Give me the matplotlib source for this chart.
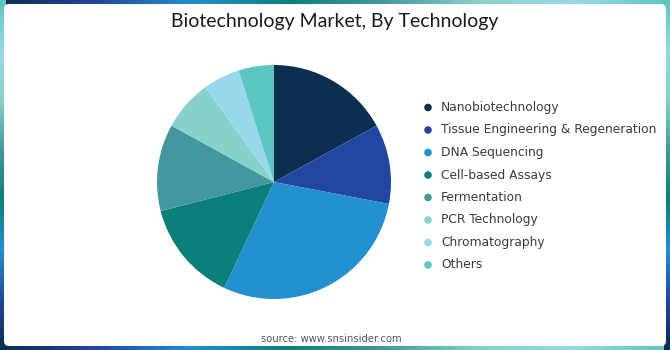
import matplotlib
import numpy as np

from matplotlib import pyplot as plt
from matplotlib.patches import FancyBboxPatch
from matplotlib.colors import LinearSegmentedColormap

matplotlib.rcParams['font.family'] = 'DejaVu Sans'

labels = ['Nanobiotechnology', 'Tissue Engineering & Regeneration', 'DNA Sequencing',
          'Cell-based Assays', 'Fermentation', 'PCR Technology', 'Chromatography', 'Others']
shares = [17, 11, 29, 14, 12, 7, 5.1, 4.9]
colors = ['#0a2f50', '#2346a0', '#2390d0', '#0b7f7a', '#45979f', '#88d0cb', '#98d8ea', '#5cc6c0']

W, H = 670, 350
fig = plt.figure(figsize=(W / 100, H / 100), dpi=100)

# gradient frame
bg = fig.add_axes([0, 0, 1, 1])
bg.set_xlim(0, W)
bg.set_ylim(H, 0)
bg.axis('off')
frame_cmap = LinearSegmentedColormap.from_list('frame', ['#0a2f50', '#2346a0', '#2390d0', '#0b7f7a',
                                                         '#45979f', '#88d0cb', '#98d8ea', '#5cc6c0'])
hgrad = np.linspace(0, 1, 256).reshape(1, -1)
vgrad = np.linspace(1, 0, 256).reshape(-1, 1)
bg.imshow(hgrad, cmap=frame_cmap, aspect='auto', extent=(0, W, 6, 0))
bg.imshow(hgrad, cmap=frame_cmap, aspect='auto', extent=(0, W, H, H - 6))
bg.imshow(vgrad, cmap=frame_cmap, aspect='auto', extent=(0, 6, H, 0))
bg.imshow(vgrad, cmap=frame_cmap, aspect='auto', extent=(W - 6, W, H, 0))
bg.add_patch(FancyBboxPatch((7, 7), W - 14, H - 14, boxstyle='round,pad=3,rounding_size=5',
                            facecolor='white', edgecolor='none'))

fig.text(0.5, 1 - 21 / H, 'Biotechnology Market, By Technology', ha='center', va='center',
         fontsize=14, color='#1a1a1a', family='Lato')

# pie
cx, cy, r = 274, 182, 117
ax = fig.add_axes([(cx - r) / W, (H - cy - r) / H, 2 * r / W, 2 * r / H])
ax.pie(shares, colors=colors, startangle=90, counterclock=False, radius=1,
       wedgeprops=dict(linewidth=0))
ax.set_xlim(-1, 1)
ax.set_ylim(-1, 1)
ax.set_aspect('equal')
ax.axis('off')

# legend
for i, (lab, col) in enumerate(zip(labels, colors)):
    y = 107.5 + i * 22.5
    bg.scatter([428], [y], s=30, color=col, edgecolor='none')
    bg.text(441, y, lab, ha='left', va='center', fontsize=8.8, color='#3a3a3a')

fig.text(331 / W, 1 - 339 / H, 'source: www.snsinsider.com', ha='center', va='center',
         fontsize=7.2, color='#555555')

plt.savefig('out.png', dpi=100)
plt.close()
